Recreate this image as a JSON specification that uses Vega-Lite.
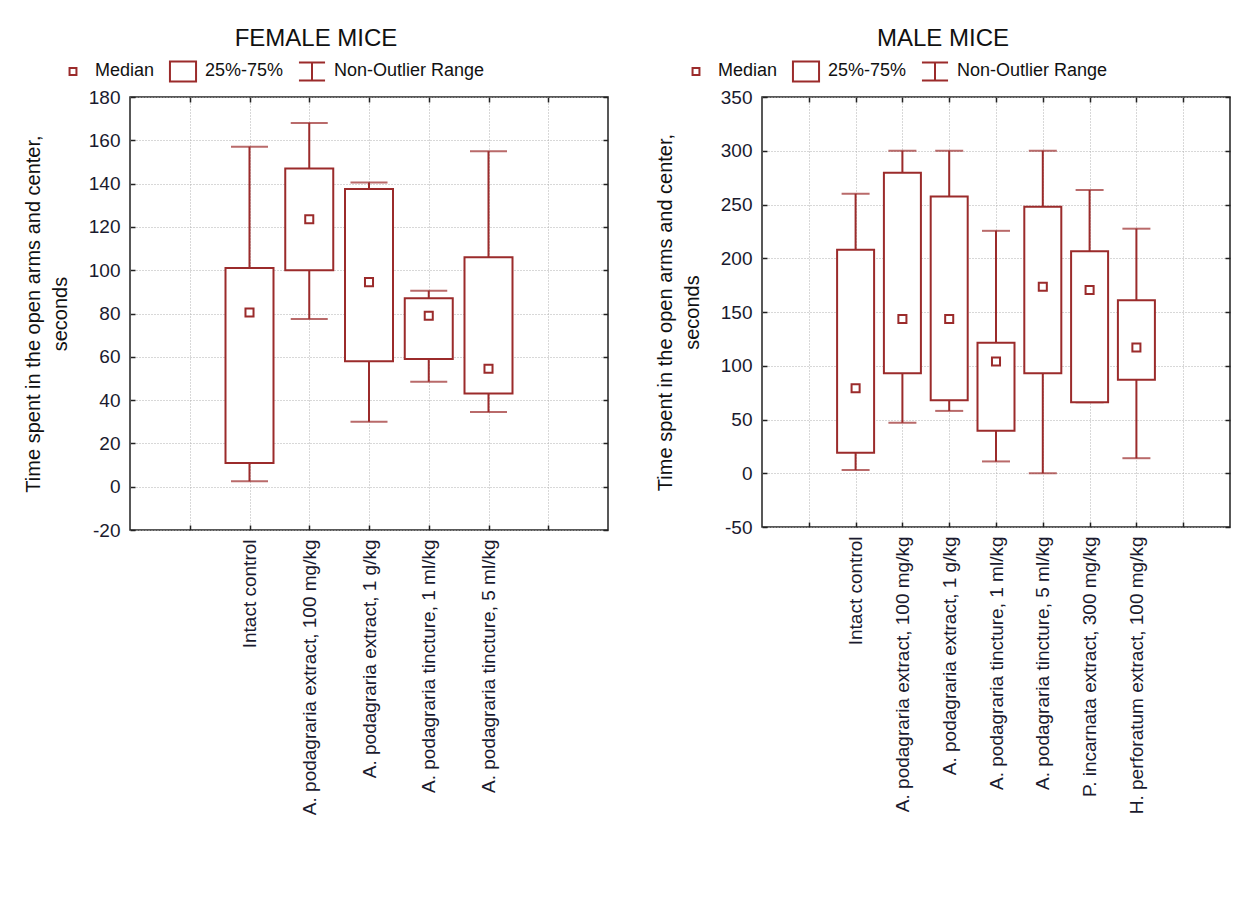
{
  "$schema": "https://vega.github.io/schema/vega-lite/v6.json",
  "autosize": {"type": "pad"},
  "padding": {"left": 22, "top": 26, "right": 0, "bottom": 0},
  "background": "white",
  "config": {
    "font": "Liberation Sans",
    "view": {"stroke": "#222222", "strokeWidth": 1.5},
    "concat": {"spacing": 44},
    "title": {"fontSize": 24, "fontWeight": "normal", "color": "#111111", "anchor": "middle", "frame": "bounds", "offset": 4},
    "axis": {
      "labelFontSize": 19, "labelColor": "#1a1a2e", "titleFontSize": 20, "titleFontWeight": "normal", "titleColor": "#111111",
      "domain": false, "grid": true, "gridColor": "#b0b0b0", "gridDash": [1, 2], "gridWidth": 1,
      "ticks": true, "tickSize": -5, "tickColor": "#222222", "tickWidth": 1.5, "labelLimit": 0
    },
    "legend": {
      "orient": "none", "direction": "horizontal", "title": null, "labelFontSize": 18, "labelColor": "#111111",
      "symbolSize": 900, "symbolStrokeWidth": 2, "symbolStrokeColor": "#9B2B2B", "symbolFillColor": "transparent",
      "labelOffset": 6, "columnPadding": 10, "symbolOpacity": 1
    }
  },
  "datasets": {
    "female": [
      {"group": "Intact control", "min": 2.5, "q1": 11, "median": 80.5, "q3": 101, "max": 157},
      {"group": "A. podagraria extract, 100 mg/kg", "min": 77.5, "q1": 100, "median": 123.5, "q3": 147, "max": 168},
      {"group": "A. podagraria extract, 1 g/kg", "min": 30, "q1": 58, "median": 94.5, "q3": 137.5, "max": 140.5},
      {"group": "A. podagraria tincture, 1 ml/kg", "min": 48.5, "q1": 59, "median": 79, "q3": 87, "max": 90.5},
      {"group": "A. podagraria tincture, 5 ml/kg", "min": 34.5, "q1": 43, "median": 54.5, "q3": 106, "max": 155}
    ],
    "male": [
      {"group": "Intact control", "min": 3, "q1": 19, "median": 79, "q3": 208, "max": 260},
      {"group": "A. podagraria extract, 100 mg/kg", "min": 47, "q1": 93, "median": 143.5, "q3": 279.5, "max": 300},
      {"group": "A. podagraria extract, 1 g/kg", "min": 58, "q1": 68, "median": 143.5, "q3": 257.5, "max": 300},
      {"group": "A. podagraria tincture, 1 ml/kg", "min": 11, "q1": 39.5, "median": 104, "q3": 121.5, "max": 225.5},
      {"group": "A. podagraria tincture, 5 ml/kg", "min": 0, "q1": 93, "median": 173.5, "q3": 248, "max": 300},
      {"group": "P. incarnata extract, 300 mg/kg", "min": 66, "q1": 66, "median": 170.5, "q3": 206.5, "max": 263.5},
      {"group": "H. perforatum extract, 100 mg/kg", "min": 14, "q1": 87, "median": 117, "q3": 161, "max": 227.5}
    ]
  },
  "resolve": {"scale": {"x": "independent", "y": "independent", "shape": "independent"}, "legend": {"shape": "independent"}},
  "hconcat": [
    {
      "title": "FEMALE MICE",
      "width": 478,
      "height": 433,
      "data": {"name": "female"},
      "resolve": {"axis": {"x": "independent", "y": "independent"}},
      "encoding": {
        "x": {
          "field": "group", "type": "nominal",
          "scale": {"type": "point", "padding": 1, "domain": ["_a", "Intact control", "A. podagraria extract, 100 mg/kg", "A. podagraria extract, 1 g/kg", "A. podagraria tincture, 1 ml/kg", "A. podagraria tincture, 5 ml/kg", "_b"]},
          "axis": null
        }
      },
      "layer": [
        {
          "mark": {"type": "rule", "color": "#9B2B2B", "strokeWidth": 2},
          "encoding": {
            "x": {"field": "group", "type": "nominal", "axis": {"title": null, "orient": "bottom", "labelAngle": -90, "labelPadding": 14, "labelExpr": "indexof(datum.value, '_') == 0 ? '' : datum.value"}},
            "y": {"field": "min", "type": "quantitative", "scale": {"domain": [-20, 180], "nice": false, "zero": false},
              "axis": {"orient": "left", "title": ["Time spent in the open arms and center,", "seconds"], "titleLineHeight": 27, "titlePadding": 18, "values": [-20, 0, 20, 40, 60, 80, 100, 120, 140, 160, 180], "labelPadding": 15, "labelExpr": "'' + datum.value"}},
            "y2": {"field": "max"}
          }
        },
        {
          "mark": {"type": "tick", "color": "#9B2B2B", "size": 37, "thickness": 2},
          "encoding": {
            "x": {"field": "group", "type": "nominal", "axis": {"orient": "top", "title": null, "labels": false, "grid": false}},
            "y": {"field": "min", "type": "quantitative", "axis": {"orient": "right", "title": null, "labels": false, "grid": false, "values": [-20, 0, 20, 40, 60, 80, 100, 120, 140, 160, 180]}}
          }
        },
        {"mark": {"type": "tick", "color": "#9B2B2B", "size": 37, "thickness": 2}, "encoding": {"y": {"field": "max", "type": "quantitative", "axis": null}}},
        {
          "mark": {"type": "bar", "size": 48, "fill": "white", "stroke": "#9B2B2B", "strokeWidth": 2},
          "encoding": {"y": {"field": "q1", "type": "quantitative", "axis": null}, "y2": {"field": "q3"}}
        },
        {
          "mark": {"type": "point", "filled": false, "color": "#9B2B2B", "strokeWidth": 2, "size": 1225, "opacity": 1},
          "encoding": {
            "y": {"field": "median", "type": "quantitative", "axis": null},
            "shape": {
              "datum": "Median",
              "scale": {"domain": ["Median", "25%-75%", "Non-Outlier Range"], "range": ["M-0.23,-0.23L0.23,-0.23L0.23,0.23L-0.23,0.23ZM0,-0.67M0,0.67", "M-0.87,-0.67L0.87,-0.67L0.87,0.67L-0.87,0.67Z", "M-0.87,-0.6L0.87,-0.6M0,-0.6L0,0.6M-0.87,0.6L0.87,0.6M0,-0.67M0,0.67"]},
              "legend": {"legendX": -73, "legendY": -42}
            }
          }
        }
      ]
    },
    {
      "title": "MALE MICE",
      "width": 468,
      "height": 430,
      "data": {"name": "male"},
      "resolve": {"axis": {"x": "independent", "y": "independent"}},
      "encoding": {
        "x": {
          "field": "group", "type": "nominal",
          "scale": {"type": "point", "padding": 1, "domain": ["_a", "Intact control", "A. podagraria extract, 100 mg/kg", "A. podagraria extract, 1 g/kg", "A. podagraria tincture, 1 ml/kg", "A. podagraria tincture, 5 ml/kg", "P. incarnata extract, 300 mg/kg", "H. perforatum extract, 100 mg/kg", "_b"]},
          "axis": null
        }
      },
      "layer": [
        {
          "mark": {"type": "rule", "color": "#9B2B2B", "strokeWidth": 2},
          "encoding": {
            "x": {"field": "group", "type": "nominal", "axis": {"title": null, "orient": "bottom", "labelAngle": -90, "labelPadding": 14, "labelExpr": "indexof(datum.value, '_') == 0 ? '' : datum.value"}},
            "y": {"field": "min", "type": "quantitative", "scale": {"domain": [-50, 350], "nice": false, "zero": false},
              "axis": {"orient": "left", "title": ["Time spent in the open arms and center,", "seconds"], "titleLineHeight": 27, "titlePadding": 18, "values": [-50, 0, 50, 100, 150, 200, 250, 300, 350], "labelPadding": 15, "labelExpr": "'' + datum.value"}},
            "y2": {"field": "max"}
          }
        },
        {
          "mark": {"type": "tick", "color": "#9B2B2B", "size": 28, "thickness": 2},
          "encoding": {
            "x": {"field": "group", "type": "nominal", "axis": {"orient": "top", "title": null, "labels": false, "grid": false}},
            "y": {"field": "min", "type": "quantitative", "axis": {"orient": "right", "title": null, "labels": false, "grid": false, "values": [-50, 0, 50, 100, 150, 200, 250, 300, 350]}}
          }
        },
        {"mark": {"type": "tick", "color": "#9B2B2B", "size": 28, "thickness": 2}, "encoding": {"y": {"field": "max", "type": "quantitative", "axis": null}}},
        {
          "mark": {"type": "bar", "size": 37, "fill": "white", "stroke": "#9B2B2B", "strokeWidth": 2},
          "encoding": {"y": {"field": "q1", "type": "quantitative", "axis": null}, "y2": {"field": "q3"}}
        },
        {
          "mark": {"type": "point", "filled": false, "color": "#9B2B2B", "strokeWidth": 2, "size": 1225, "opacity": 1},
          "encoding": {
            "y": {"field": "median", "type": "quantitative", "axis": null},
            "shape": {
              "datum": "Median",
              "scale": {"domain": ["Median", "25%-75%", "Non-Outlier Range"], "range": ["M-0.23,-0.23L0.23,-0.23L0.23,0.23L-0.23,0.23ZM0,-0.67M0,0.67", "M-0.87,-0.67L0.87,-0.67L0.87,0.67L-0.87,0.67Z", "M-0.87,-0.6L0.87,-0.6M0,-0.6L0,0.6M-0.87,0.6L0.87,0.6M0,-0.67M0,0.67"]},
              "legend": {"legendX": -82, "legendY": -42}
            }
          }
        }
      ]
    }
  ]
}
